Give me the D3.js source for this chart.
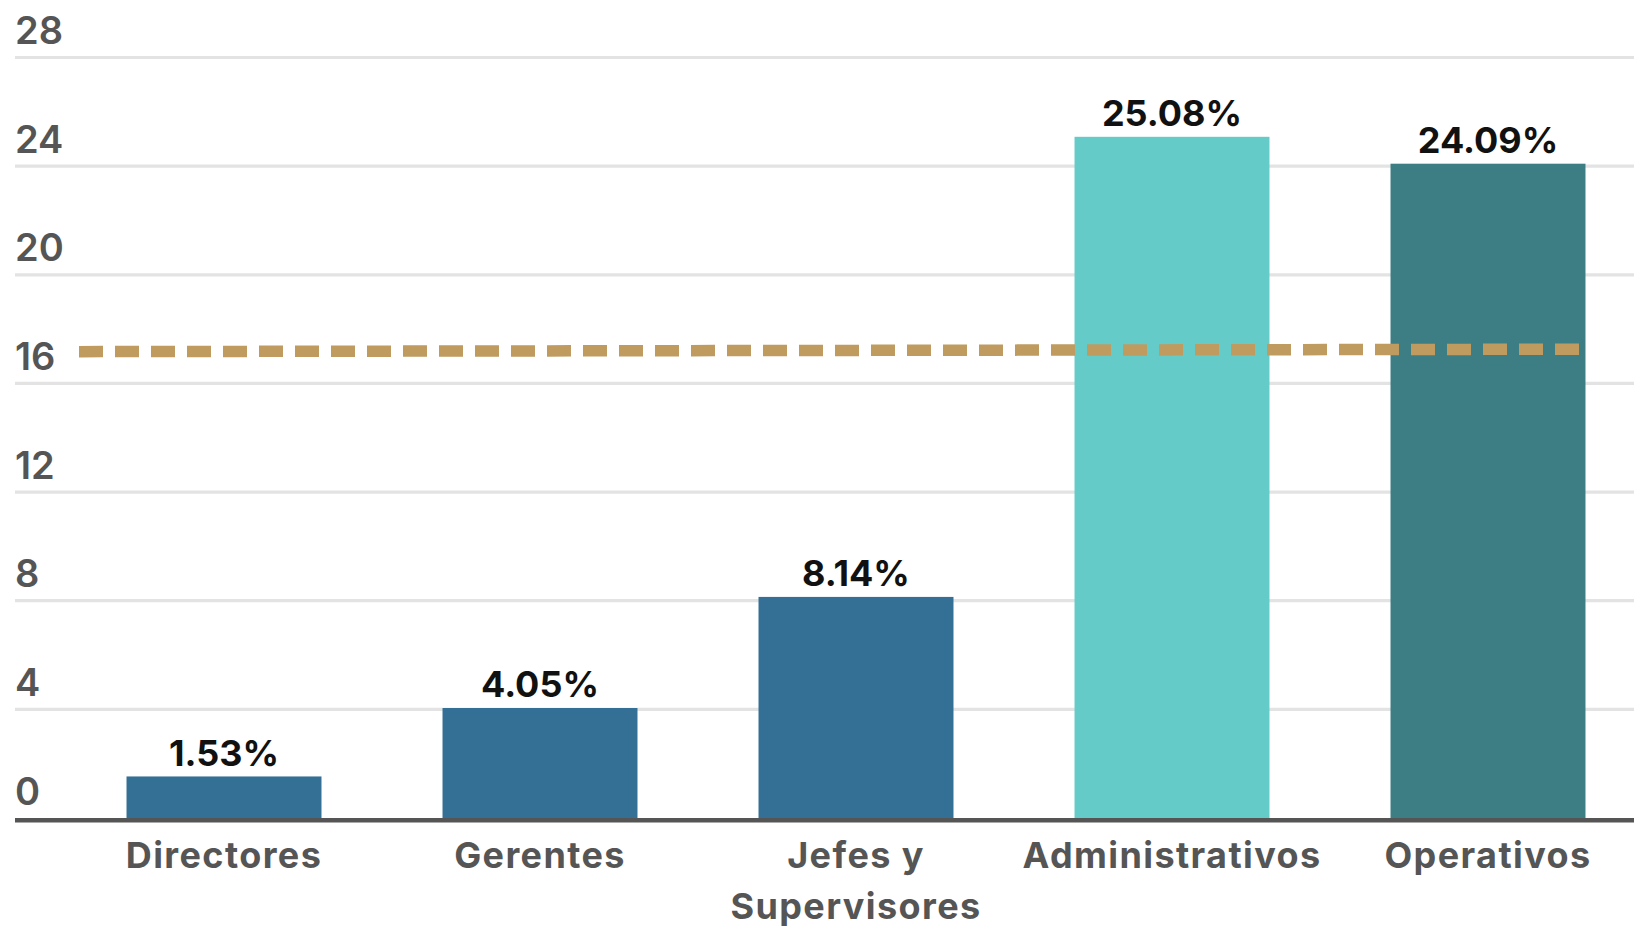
<!DOCTYPE html>
<html>
<head>
<meta charset="utf-8">
<script src="https://cdn.jsdelivr.net/npm/d3@7"></script>
<style>
  html, body { margin: 0; padding: 0; background: #fff; }
  svg { display: block; }
  text { font-family: "Inter", "Liberation Sans", sans-serif; }
</style>
</head>
<body>
<svg id="chart" width="1634" height="928"></svg>
<script>
// Percentage of staff by job level
const categories = ["Directores", "Gerentes", "Jefes y Supervisores", "Administrativos", "Operativos"];
const categoryLines = [["Directores"], ["Gerentes"], ["Jefes y", "Supervisores"], ["Administrativos"], ["Operativos"]];
const values = [1.53, 4.05, 8.14, 25.08, 24.09];
const barColors = ["#346f96", "#346f96", "#346f96", "#65cbc9", "#3d7e85"];
const yTicks = [0, 4, 8, 12, 16, 20, 24, 28];
// Reference (average) line: value at its left and right ends
const referenceLine = [17.17, 17.26];

const W = 1634, H = 928;
const svg = d3.select("#chart");

const x = d3.scaleBand()
  .domain(categories)
  .range([66, 1646])
  .paddingInner(0.383)
  .paddingOuter(0.1915);

const y = d3.scaleLinear().domain([0, 28]).range([818, 57.5]);

// Horizontal gridlines
svg.append("g")
  .selectAll("line")
  .data(yTicks.filter(t => t > 0))
  .join("line")
  .attr("x1", 15).attr("x2", W)
  .attr("y1", d => y(d)).attr("y2", d => y(d))
  .attr("stroke", "#e3e3e3")
  .attr("stroke-width", 3.2);

// Y tick labels, sitting above each gridline
svg.append("g")
  .selectAll("text")
  .data(yTicks)
  .join("text")
  .attr("x", 15)
  .attr("y", d => y(d) - 13.5)
  .attr("font-size", 38)
  .attr("font-weight", 600)
  .attr("fill", "#555")
  .text(d => d);

// Bars
svg.append("g")
  .selectAll("rect")
  .data(values)
  .join("rect")
  .attr("x", (d, i) => x(categories[i]))
  .attr("width", x.bandwidth())
  .attr("y", d => y(d))
  .attr("height", d => y(0) - y(d))
  .attr("fill", (d, i) => barColors[i]);

// Value labels
svg.append("g")
  .selectAll("text")
  .data(values)
  .join("text")
  .attr("x", (d, i) => x(categories[i]) + x.bandwidth() / 2)
  .attr("y", d => y(d) - 10.5)
  .attr("text-anchor", "middle")
  .attr("font-size", 36)
  .attr("font-weight", 700)
  .attr("fill", "#111")
  .text(d => d.toFixed(2) + "%");

// Baseline axis
svg.append("line")
  .attr("x1", 15).attr("x2", W)
  .attr("y1", y(0) + 2.3).attr("y2", y(0) + 2.3)
  .attr("stroke", "#555")
  .attr("stroke-width", 4.6);

// Category labels (wrapped)
const xl = svg.append("g")
  .selectAll("text")
  .data(categories)
  .join("text")
  .attr("x", d => x(d) + x.bandwidth() / 2)
  .attr("y", 868)
  .attr("text-anchor", "middle")
  .attr("font-size", 36)
  .attr("font-weight", 700)
  .attr("letter-spacing", 1.4)
  .attr("fill", "#555");
xl.each(function(d, i) {
  d3.select(this).selectAll("tspan")
    .data(categoryLines[i])
    .join("tspan")
    .attr("x", x(d) + x.bandwidth() / 2)
    .attr("dy", (t, j) => j === 0 ? 0 : 51)
    .text(t => t);
});

// Dashed reference line
const rx = d3.scaleLinear().domain([0, referenceLine.length - 1]).range([79, 1580]);
svg.append("path")
  .datum(referenceLine)
  .attr("d", d3.line().x((d, i) => rx(i)).y(d => y(d)))
  .attr("fill", "none")
  .attr("stroke", "#bf9b60")
  .attr("stroke-width", 11.5)
  .attr("stroke-dasharray", "24 12");
</script>
</body>
</html>
